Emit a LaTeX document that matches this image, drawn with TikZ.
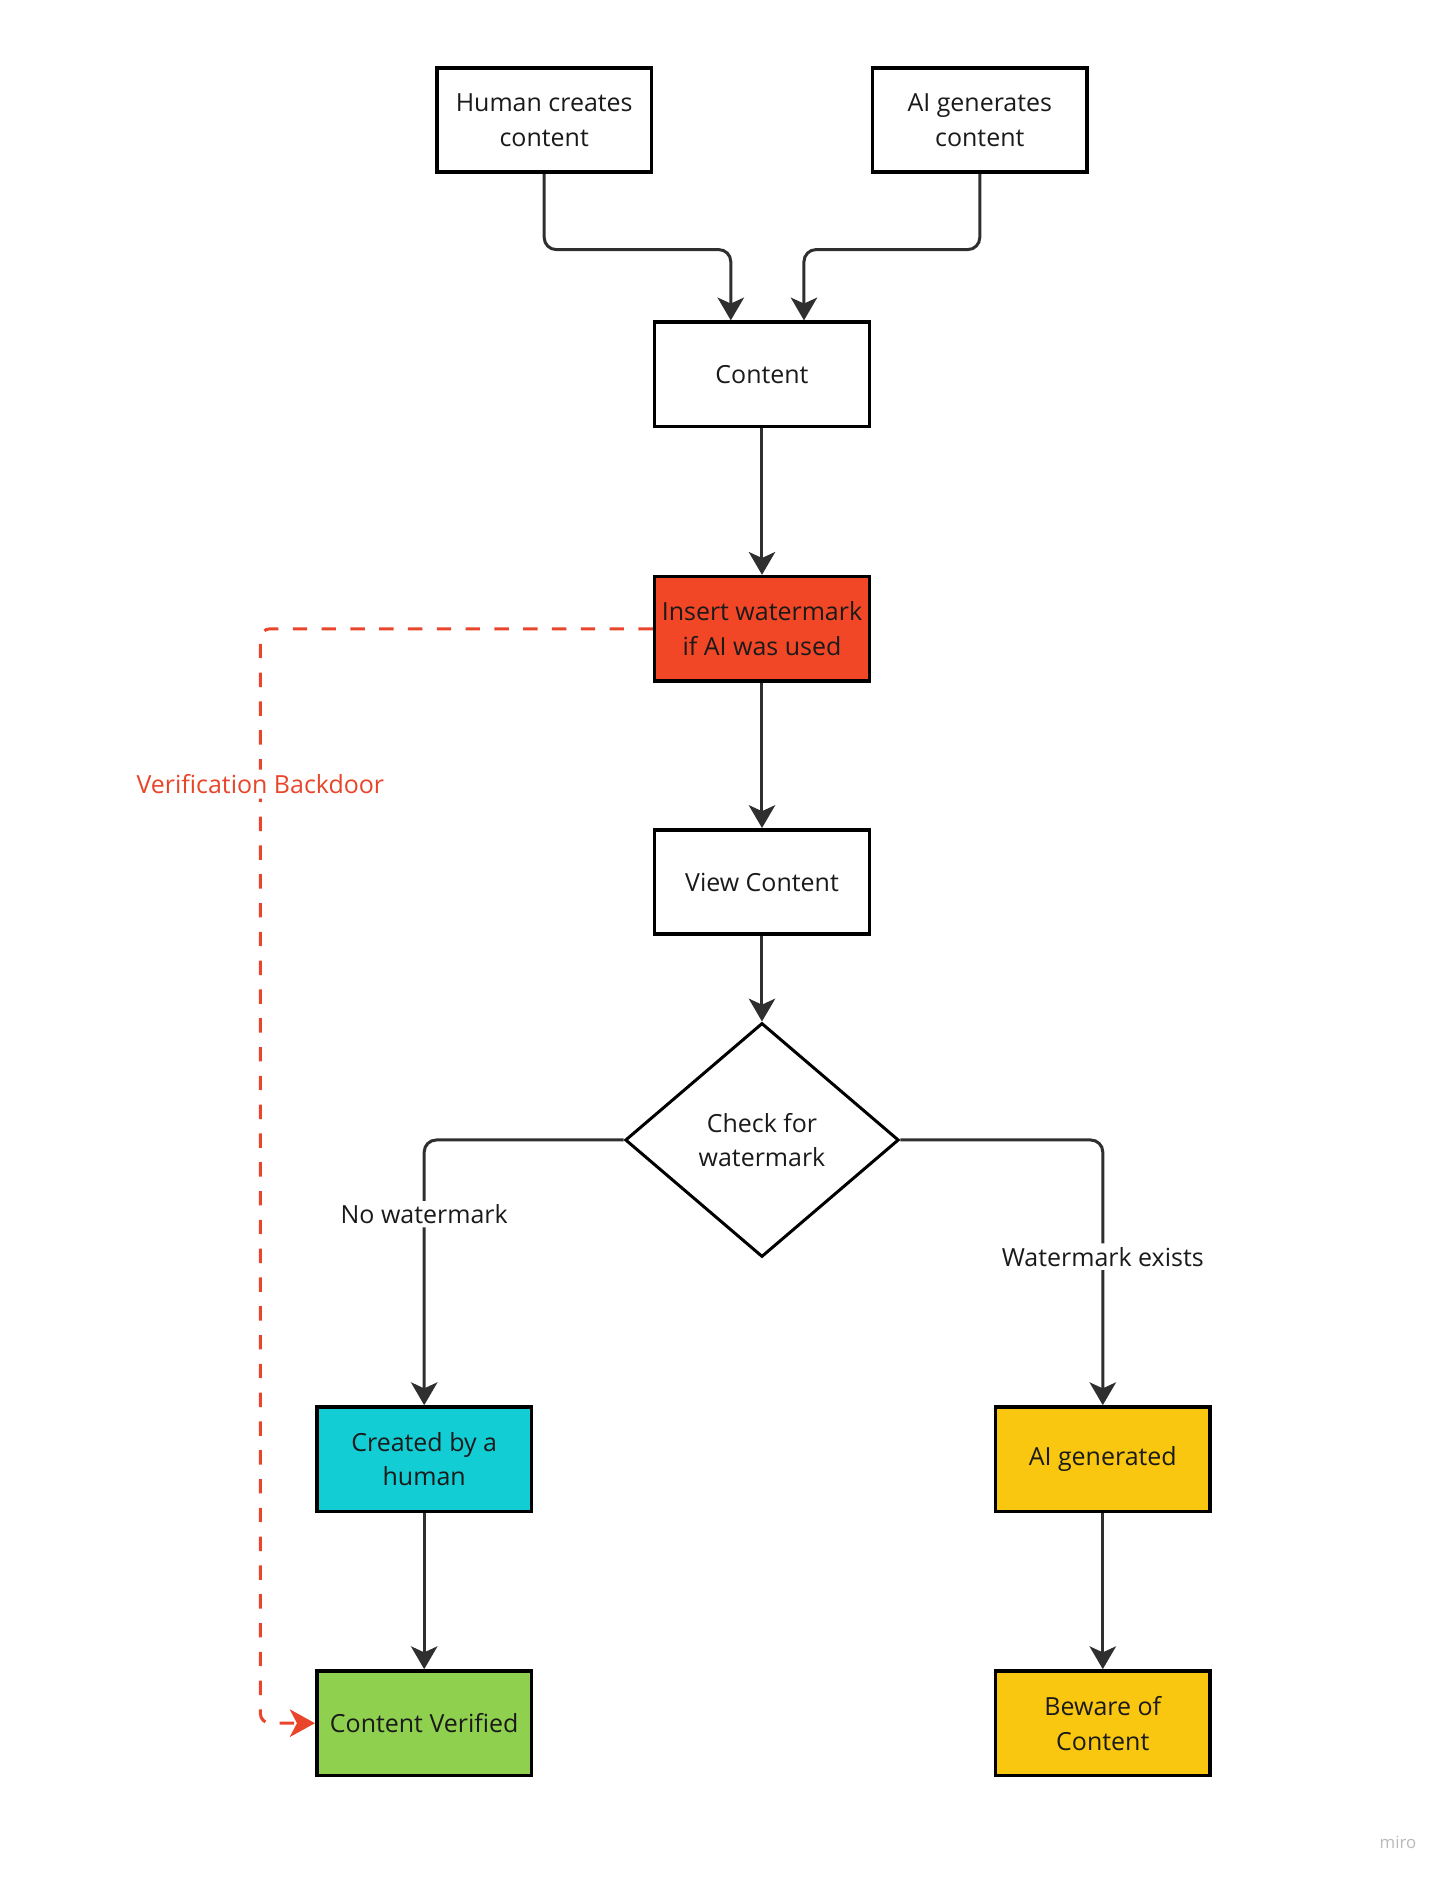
\documentclass[tikz,border=0pt]{standalone}
\usepackage{fontspec}
\setmainfont{Open Sans}
\usetikzlibrary{arrows.meta, shapes.geometric}

\definecolor{ink}{HTML}{1A1A1A}
\definecolor{wire}{HTML}{2F2F2F}
\definecolor{alarm}{HTML}{F24726}
\definecolor{backdoor}{HTML}{E8452A}
\definecolor{humancyan}{HTML}{12CDD4}
\definecolor{aiyellow}{HTML}{FAC710}
\definecolor{okgreen}{HTML}{8FD14F}

\begin{document}
\begin{tikzpicture}[
		x=1pt, y=-1pt, % screen-like coordinates, y grows downward
		font=\fontsize{20.8}{29}\selectfont,
		box/.style={draw=black, line width=3pt, text=ink, align=center,
			minimum width=179pt, minimum height=87pt, inner sep=4pt},
		decision/.style={diamond, draw=black, line width=2.5pt, text=ink, align=center,
			minimum width=228pt, minimum height=195pt, inner sep=0pt},
		conn/.style={draw=wire, line width=2.5pt, rounded corners=10pt,
			-{Stealth[length=19pt, width=22pt, inset=5pt]}},
		lbl/.style={fill=white, text=ink, inner sep=3pt}
		]
		
		% --- canvas ---
		\useasboundingbox (0,0) rectangle (1213.3,1569.2);
		
		% --- 1. Sources ---
		\node[box] (human) at (453.5,100) {Human creates\\content};
		\node[box] (aigen) at (816.5,100) {AI generates\\content};
		
		% --- 2. Main column ---
		\node[box] (content) at (635,312) {Content};
		\node[box, fill=alarm] (insert) at (635,524) {Insert watermark\\if AI was used};
		\node[box] (view) at (635,735) {View Content};
		\node[decision] (check) at (635,950) {Check for\\watermark};
		
		% --- 3. Outcomes ---
		\node[box, fill=humancyan] (byhuman) at (353.5,1216) {Created by a\\human};
		\node[box, fill=okgreen] (verified) at (353.5,1436) {Content Verified};
		\node[box, fill=aiyellow] (aigenerated) at (919,1216) {AI generated};
		\node[box, fill=aiyellow] (beware) at (919,1436) {Beware of\\Content};
		
		% --- 4. Connectors ---
		\draw[conn] (human.south) -- ++(0,63) -| ([xshift=-26pt]content.north);
		\draw[conn] (aigen.south) -- ++(0,63) -| ([xshift=35pt]content.north);
		\draw[conn] (content) -- (insert);
		\draw[conn] (insert) -- (view);
		\draw[conn] (view) -- (check);
		\draw[conn] (check.west) -| node[lbl, pos=0.64] {No watermark} (byhuman.north);
		\draw[conn] (check.east) -| node[lbl, pos=0.72] {Watermark exists} (aigenerated.north);
		\draw[conn] (byhuman) -- (verified);
		\draw[conn] (aigenerated) -- (beware);
		
		% --- 5. Backdoor path ---
		\draw[backdoor, line width=2.5pt, dash pattern=on 12pt off 12pt, rounded corners=8pt,
		-{Stealth[length=21pt, width=23pt, inset=6pt]}]
		(insert.west) -- ++(-327,0) |- node[pos=0.071, fill=white, inner sep=4pt, text=backdoor] {Verification Backdoor}
		(verified.west);
		
		% --- 6. Watermark of the tool ---
		\node[text=gray!55, font=\fontsize{14}{16}\selectfont] (miro) at (1165,1535) {miro};
		
	\end{tikzpicture}
\end{document}
